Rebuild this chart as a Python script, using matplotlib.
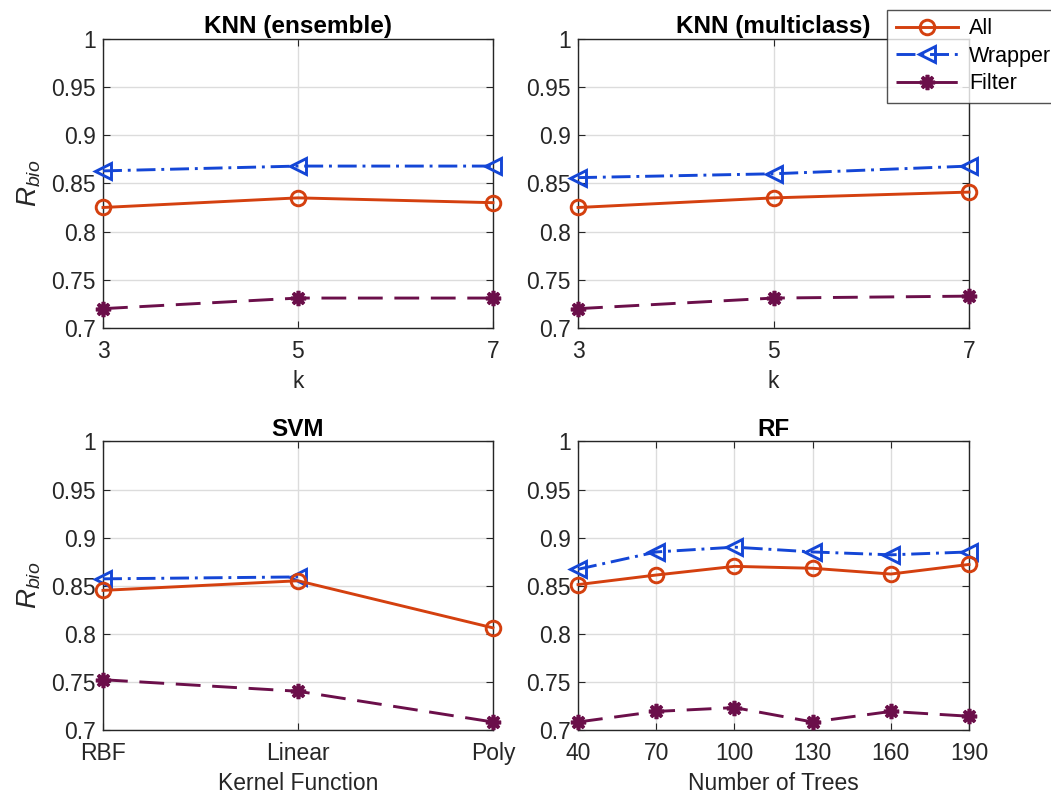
import matplotlib
matplotlib.use("Agg")
import matplotlib.pyplot as plt
from matplotlib.ticker import FuncFormatter

plt.rcParams['font.family'] = ['Liberation Sans', 'DejaVu Sans']
plt.rcParams['mathtext.fontset'] = 'custom'
plt.rcParams['mathtext.rm'] = 'Liberation Sans'
plt.rcParams['mathtext.it'] = 'Liberation Sans:italic'

# data
k_values = [3, 5, 7]
ens_all = [0.825, 0.835, 0.830]
ens_wrapper = [0.863, 0.868, 0.868]
ens_filter = [0.720, 0.731, 0.731]

multi_all = [0.825, 0.835, 0.841]
multi_wrapper = [0.856, 0.860, 0.868]
multi_filter = [0.720, 0.731, 0.733]

kernels = ["RBF", "Linear", "Poly"]
svm_all = [0.845, 0.855, 0.806]
svm_wrapper = [0.857, 0.859]
svm_filter = [0.752, 0.740, 0.708]

trees = [40, 70, 100, 130, 160, 190]
rf_all = [0.851, 0.861, 0.870, 0.868, 0.862, 0.872]
rf_wrapper = [0.867, 0.885, 0.890, 0.885, 0.882, 0.885]
rf_filter = [0.708, 0.719, 0.723, 0.708, 0.719, 0.714]

yticks = [0.7, 0.75, 0.8, 0.85, 0.9, 0.95, 1.0]

c_all = '#D4400F'
c_wrap = '#1446D6'
c_filt = '#6B0F4A'
lw = 2.1
fs = 16.5

fig = plt.figure(figsize=(10.51, 7.94), dpi=100)
positions = [
    [0.098, 0.587, 0.371, 0.364],
    [0.550, 0.587, 0.372, 0.364],
    [0.098, 0.081, 0.371, 0.363],
    [0.550, 0.081, 0.372, 0.363],
]
axes = [fig.add_axes(p) for p in positions]


def plot_series(ax, x_all, y_all, x_wrap, y_wrap, x_filt, y_filt):
    ax.plot(x_all, y_all, color=c_all, lw=lw, ls='-', marker='o', ms=10.5,
            mfc='none', mew=2.1, label='All', clip_on=False, zorder=4)
    ax.plot(x_wrap, y_wrap, color=c_wrap, lw=lw, ls=(0, (6.5, 2, 1, 2)),
            marker='<', ms=11, mfc='none', mew=2.1, label='Wrapper',
            clip_on=False, zorder=3)
    ax.plot(x_filt, y_filt, color=c_filt, lw=lw, ls=(0, (8.5, 4)),
            marker=(8, 2, 0), ms=11, mew=2.6, label='Filter',
            clip_on=False, zorder=3)


plot_series(axes[0], k_values, ens_all, k_values, ens_wrapper, k_values, ens_filter)
plot_series(axes[1], k_values, multi_all, k_values, multi_wrapper, k_values, multi_filter)
kx = list(range(1, len(kernels) + 1))
plot_series(axes[2], kx, svm_all, kx[:len(svm_wrapper)], svm_wrapper, kx, svm_filter)
plot_series(axes[3], trees, rf_all, trees, rf_wrapper, trees, rf_filter)

titles = ["KNN (ensemble)", "KNN (multiclass)", "SVM", "RF"]
xlabels = ["k", "k", "Kernel Function", "Number of Trees"]

for i, ax in enumerate(axes):
    ax.set_ylim(0.7, 1.0)
    ax.set_yticks(yticks)
    ax.yaxis.set_major_formatter(FuncFormatter(lambda v, p: '%g' % round(v, 2)))
    ax.set_title(titles[i], fontsize=17.5, fontweight='bold', pad=4)
    ax.set_xlabel(xlabels[i], fontsize=fs, color='#262626', labelpad=5)
    ax.grid(True, color='#dcdcdc', lw=1.0)
    ax.set_axisbelow(True)
    ax.tick_params(direction='in', top=True, right=True, labelsize=fs,
                   colors='#262626', length=5, width=0.8)
    ax.tick_params(axis='x', pad=9)
    ax.tick_params(axis='y', pad=5)
    for s in ax.spines.values():
        s.set_color('#262626')
        s.set_linewidth(1.0)
    if i % 2 == 0:
        ax.set_ylabel(r'$R_{bio}$', fontsize=20, color='#262626', labelpad=6)

axes[0].set_xlim(3, 7)
axes[0].set_xticks(k_values)
axes[1].set_xlim(3, 7)
axes[1].set_xticks(k_values)
axes[2].set_xlim(1, 3)
axes[2].set_xticks(kx)
axes[2].set_xticklabels(kernels)
axes[3].set_xlim(40, 190)
axes[3].set_xticks(trees)

handles, labels = axes[1].get_legend_handles_labels()
leg = fig.legend(handles, labels, loc='upper left', bbox_to_anchor=(0.844, 0.988),
                 fontsize=15.5, frameon=True, fancybox=False, handlelength=2.9,
                 labelspacing=0.3, borderpad=0.4, handletextpad=0.5,
                 borderaxespad=0)
leg.get_frame().set_edgecolor('#262626')
leg.get_frame().set_linewidth(1.0)

fig.savefig('out.png', dpi=100)
